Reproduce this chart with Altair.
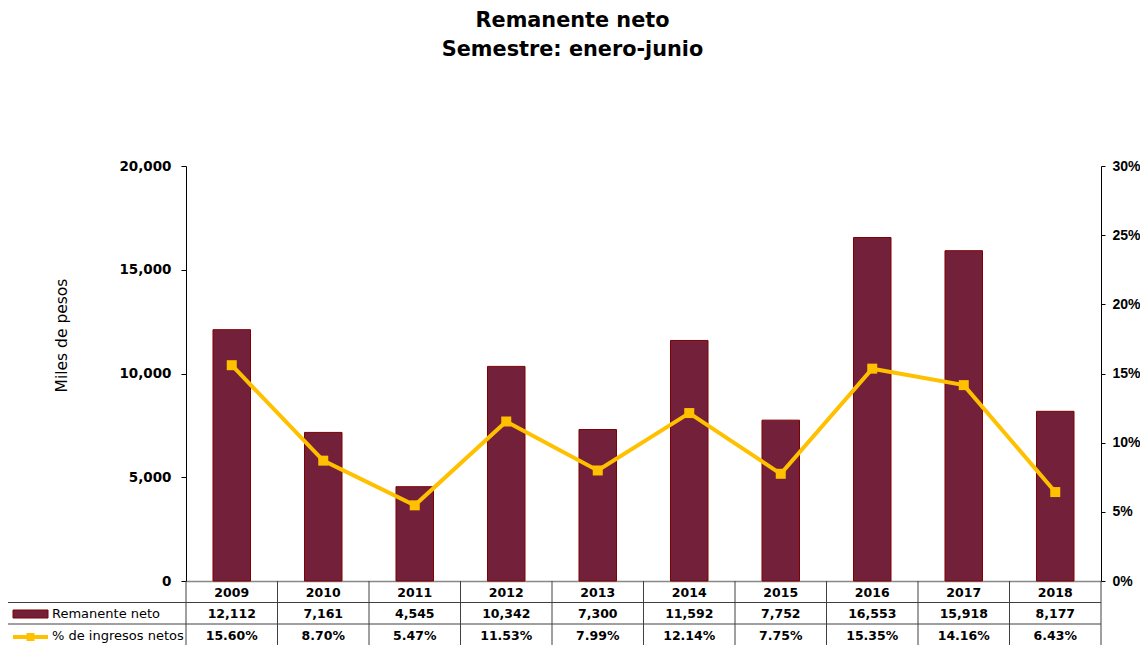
import altair as alt
import pandas as pd

years = ["2009", "2010", "2011", "2012", "2013", "2014", "2015", "2016", "2017", "2018"]
remanente = [12112, 7161, 4545, 10342, 7300, 11592, 7752, 16553, 15918, 8177]
pct_ingresos = [15.60, 8.70, 5.47, 11.53, 7.99, 12.14, 7.75, 15.35, 14.16, 6.43]
series_names = ["Remanente neto", "% de ingresos netos"]
title_lines = ["Remanente neto", "Semestre: enero-junio"]
y_title = "Miles de pesos"

W, H = 915, 415
PAD_L, PAD_T, PAD_R, PAD_B = 178, 158, 39, 64
STEP = W / len(years)
P_IN = 0.59
BAR_FILL = "#73203A"
BAR_STROKE = "#7F0000"
LINE_COLOR = "#FFC000"
GRID = "#404040"
FONT = "DejaVu Sans"

df = pd.DataFrame({
    "year": years,
    "rem": remanente,
    "pct": [p / 100 for p in pct_ingresos],
})

xscale = alt.Scale(paddingInner=P_IN, paddingOuter=P_IN / 2)
x_enc = alt.X(
    "year:O", title=None, scale=xscale,
    axis=alt.Axis(orient="bottom", labelAngle=0, ticks=False, domainColor="#888888",
                  domainWidth=1.5, labelFont=FONT, labelFontSize=12.5, labelFontWeight="bold",
                  labelColor="black", labelBaseline="middle", labelPadding=11),
)

base = alt.Chart(df)

bars = base.mark_bar(fill=BAR_FILL, stroke=BAR_STROKE, strokeWidth=1).encode(
    x=x_enc,
    y=alt.Y("rem:Q", title=y_title,
            scale=alt.Scale(domain=[0, 20000]),
            axis=alt.Axis(orient="left", values=[0, 5000, 10000, 15000, 20000], format=",.0f",
                          grid=False, domainColor="black", tickColor="black", tickSize=5,
                          labelPadding=10, labelFont=FONT, labelFontSize=13.5,
                          labelFontWeight="bold", labelColor="black",
                          titleFont=FONT, titleFontSize=15.5, titleFontWeight="normal",
                          titleColor="black", titleX=-117, titleY=169)),
)

line = base.mark_line(
    color=LINE_COLOR, strokeWidth=4,
    point=alt.OverlayMarkDef(shape="square", size=100, filled=True, color=LINE_COLOR, opacity=1),
).encode(
    x=alt.X("year:O", scale=xscale),
    y=alt.Y("pct:Q", title=None,
            scale=alt.Scale(domain=[0, 0.30]),
            axis=alt.Axis(orient="right", values=[0, 0.05, 0.10, 0.15, 0.20, 0.25, 0.30],
                          format=".0%", grid=False, domainColor="black", tickColor="black",
                          tickSize=4, labelPadding=7, labelFont="Liberation Sans",
                          labelFontSize=14, labelFontWeight="bold", labelColor="black")),
)

# Data table below the plot
rem_text = base.mark_text(font=FONT, fontSize=12.5, fontWeight="bold", color="black",
                          baseline="middle").encode(
    x=alt.X("year:O", scale=xscale),
    y=alt.value(448),
    text=alt.Text("rem:Q", format=","),
)
pct_text = base.mark_text(font=FONT, fontSize=12.5, fontWeight="bold", color="black",
                          baseline="middle").encode(
    x=alt.X("year:O", scale=xscale),
    y=alt.value(470),
    text=alt.Text("pct:Q", format=".2%"),
)

dividers = base.mark_rule(color=GRID, strokeWidth=1, xOffset=-STEP * P_IN / 2).encode(
    x=alt.X("year:O", scale=xscale, bandPosition=0),
    y=alt.value(H),
    y2=alt.value(H + 64),
)

one = alt.Chart(pd.DataFrame({"k": [0]}))
right_edge = one.mark_rule(color=GRID, strokeWidth=1).encode(
    x=alt.value(W), y=alt.value(H), y2=alt.value(H + 64))
hline1 = one.mark_rule(color=GRID, strokeWidth=1).encode(
    x=alt.value(-178.5), x2=alt.value(W), y=alt.value(436.5))
hline2 = one.mark_rule(color=GRID, strokeWidth=1).encode(
    x=alt.value(-178.5), x2=alt.value(W), y=alt.value(458))
left_edge = one.mark_rule(color=GRID, strokeWidth=1).encode(
    x=alt.value(-178.5), y=alt.value(436.5), y2=alt.value(H + 64))

leg_df = pd.DataFrame({"name": series_names})
leg_bar = one.mark_rect(fill=BAR_FILL, stroke=BAR_STROKE, strokeWidth=1).encode(
    x=alt.value(-173), x2=alt.value(-138), y=alt.value(444), y2=alt.value(452))
leg_line = one.mark_rule(color=LINE_COLOR, strokeWidth=4).encode(
    x=alt.value(-173), x2=alt.value(-138), y=alt.value(471))
leg_pt = one.mark_point(shape="square", size=64, filled=True, color=LINE_COLOR, opacity=1).encode(
    x=alt.value(-155.5), y=alt.value(471))
leg_text1 = alt.Chart(leg_df).transform_filter(alt.datum.name == series_names[0]).mark_text(
    font=FONT, fontSize=13, align="left", baseline="middle", color="black").encode(
    x=alt.value(-134), y=alt.value(448), text="name:N")
leg_text2 = alt.Chart(leg_df).transform_filter(alt.datum.name == series_names[1]).mark_text(
    font=FONT, fontSize=13, align="left", baseline="middle", color="black").encode(
    x=alt.value(-134), y=alt.value(470), text="name:N")

chart = alt.layer(
    bars, line, dividers, right_edge, hline1, hline2, left_edge,
    rem_text, pct_text, leg_bar, leg_line, leg_pt, leg_text1, leg_text2,
).resolve_scale(y="independent").properties(
    width=W, height=H,
    autosize=alt.AutoSizeParams(type="none"),
    padding={"left": PAD_L, "top": PAD_T, "right": PAD_R, "bottom": PAD_B},
    background="white",
    title=alt.Title(title_lines, anchor="middle", frame="group", dx=-71, offset=98,
                    font=FONT, fontSize=20.8, fontWeight="bold", color="black",
                    lineHeight=29),
).configure_view(stroke=None)

chart.save("out.html", embed_options={"renderer": "svg", "actions": False})
